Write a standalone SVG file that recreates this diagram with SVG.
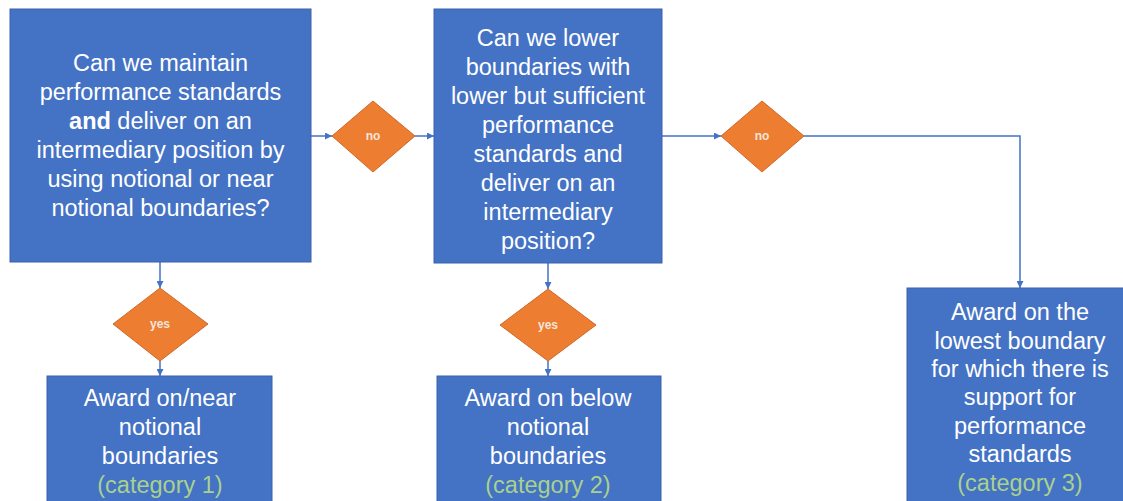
<svg xmlns="http://www.w3.org/2000/svg" width="1123" height="501" viewBox="0 0 1123 501">
<defs>
<marker id="arr" viewBox="0 0 10 10" refX="10" refY="5" markerWidth="7" markerHeight="7" markerUnits="userSpaceOnUse" orient="auto"><path d="M0,0 L10,5 L0,10 z" fill="#4472C4"/></marker>
<style>
.box{fill:#4472C4;stroke:#3A62AB;stroke-width:1}
.dia{fill:#ED7D31;stroke:#D0692A;stroke-width:1}
.t{font-family:"Liberation Sans",Arial,sans-serif;font-size:23.5px;fill:#FFFFFF;text-anchor:middle}
.cat{fill:#A9D18E}
.d{font-family:"Liberation Sans",Arial,sans-serif;font-size:12px;font-weight:bold;fill:#F4E6DC;text-anchor:middle}
.c{fill:none;stroke:#4472C4;stroke-width:1.5;marker-end:url(#arr)}
</style>
</defs>
<rect width="1123" height="501" fill="#FFFFFF"/>
<g id="connectors">
<path class="c" d="M311,136 H332"/>
<path class="c" d="M415,136 H434"/>
<path class="c" d="M662,136 H721"/>
<path class="c" d="M804,136 H1020 V288"/>
<path class="c" d="M160,262 V288"/>
<path class="c" d="M160,361 V376"/>
<path class="c" d="M548,263 V289"/>
<path class="c" d="M548,361 V376"/>
</g>
<g id="q1">
<rect class="box" x="10" y="9" width="301" height="253"/>
<text class="t" x="160.5"><tspan x="160.5" y="71">Can we maintain</tspan><tspan x="160.5" y="100">performance standards</tspan><tspan x="160.5" y="129"><tspan font-weight="bold">and</tspan> deliver on an</tspan><tspan x="160.5" y="158">intermediary position by</tspan><tspan x="160.5" y="187">using notional or near</tspan><tspan x="160.5" y="216">notional boundaries?</tspan></text>
</g>
<g id="no1">
<polygon class="dia" points="373,101 415,136 373,172 332,136"/>
<text class="d" x="373" y="140">no</text>
</g>
<g id="q2">
<rect class="box" x="434" y="9" width="228" height="254"/>
<text class="t"><tspan x="548" y="46">Can we lower</tspan><tspan x="548" y="75">boundaries with</tspan><tspan x="548" y="104">lower but sufficient</tspan><tspan x="548" y="133">performance</tspan><tspan x="548" y="162">standards and</tspan><tspan x="548" y="191">deliver on an</tspan><tspan x="548" y="220">intermediary</tspan><tspan x="548" y="249">position?</tspan></text>
</g>
<g id="no2">
<polygon class="dia" points="762,101 804,136 762,172 721,136"/>
<text class="d" x="762" y="140">no</text>
</g>
<g id="yes1">
<polygon class="dia" points="160,288 208,324 160,361 113,324"/>
<text class="d" x="160" y="328">yes</text>
</g>
<g id="yes2">
<polygon class="dia" points="548,289 596,325 548,361 500,325"/>
<text class="d" x="548" y="329">yes</text>
</g>
<g id="cat1">
<rect class="box" x="47" y="376" width="225" height="130"/>
<text class="t"><tspan x="160" y="406">Award on/near</tspan><tspan x="160" y="435">notional</tspan><tspan x="160" y="464">boundaries</tspan><tspan class="cat" x="160" y="493">(category 1)</tspan></text>
</g>
<g id="cat2">
<rect class="box" x="437" y="376" width="224" height="130"/>
<text class="t"><tspan x="548" y="406">Award on below</tspan><tspan x="548" y="435">notional</tspan><tspan x="548" y="464">boundaries</tspan><tspan class="cat" x="548" y="493">(category 2)</tspan></text>
</g>
<g id="cat3">
<rect class="box" x="907" y="288" width="226" height="218"/>
<text class="t"><tspan x="1020" y="320">Award on the</tspan><tspan x="1020" y="349">lowest boundary</tspan><tspan x="1020" y="377">for which there is</tspan><tspan x="1020" y="405">support for</tspan><tspan x="1020" y="434">performance</tspan><tspan x="1020" y="462">standards</tspan><tspan class="cat" x="1020" y="491">(category 3)</tspan></text>
</g>
</svg>
